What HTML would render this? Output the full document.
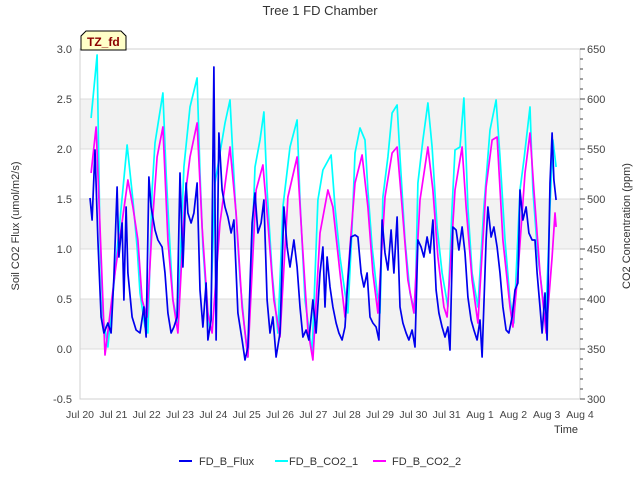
<!DOCTYPE html>
<html><head><meta charset="utf-8">
<style>
body{margin:0;background:#fff;}
svg{display:block;font-family:"Liberation Sans","DejaVu Sans",sans-serif;}
</style></head>
<body>
<svg id="chart" width="640" height="480">
</svg>
<script>
// ---- data ----
const xTickLabels = ["Jul 20","Jul 21","Jul 22","Jul 23","Jul 24","Jul 25","Jul 26","Jul 27","Jul 28","Jul 29","Jul 30","Jul 31","Aug 1","Aug 2","Aug 3","Aug 4"];
const leftTicks = [-0.5,0.0,0.5,1.0,1.5,2.0,2.5,3.0];
const rightTicks = [300,350,400,450,500,550,600,650];
const fluxT = [.28,.34,.42,.50,.59,.67,.78,.87,.95,1.04,1.09,1.18,1.23,1.29,1.34,1.46,1.57,1.68,1.79,1.85,1.93,1.99,2.10,2.18,2.30,2.38,2.46,2.55,2.63,2.72,2.80,2.88,2.97,3.02,3.11,3.19,3.28,3.36,3.44,3.53,3.58,3.67,3.75,3.81,3.89,3.98,4.06,4.14,4.23,4.31,4.42,4.54,4.62,4.70,4.82,4.90,4.98,5.07,5.15,5.24,5.32,5.40,5.49,5.60,5.71,5.80,5.88,5.99,6.08,6.16,6.24,6.33,6.41,6.52,6.61,6.72,6.80,6.86,6.92,7.00,7.08,7.17,7.25,7.34,7.42,7.50,7.59,7.70,7.78,7.87,7.95,8.04,8.12,8.20,8.29,8.37,8.46,8.54,8.62,8.71,8.79,8.88,8.96,9.04,9.13,9.21,9.30,9.38,9.46,9.55,9.63,9.72,9.80,9.88,9.97,10.05,10.14,10.22,10.30,10.36,10.44,10.53,10.61,10.70,10.78,10.86,10.95,11.03,11.12,11.20,11.26,11.37,11.42,11.51,11.59,11.68,11.76,11.84,11.93,12.01,12.10,12.18,12.26,12.32,12.40,12.49,12.57,12.66,12.74,12.80,12.88,12.94,13.02,13.08,13.16,13.22,13.27,13.33];
const fluxV = [1.51,1.29,1.99,1.09,0.32,0.16,0.26,0.16,0.72,1.62,0.92,1.26,0.49,1.42,0.76,0.32,0.19,0.16,0.42,0.12,1.72,1.42,1.19,1.09,1.02,0.76,0.36,0.16,0.22,0.32,1.76,0.82,1.66,1.36,1.26,1.36,1.66,0.59,0.22,0.66,0.09,0.29,2.82,0.09,2.16,1.59,1.42,1.32,1.16,1.29,0.36,0.09,-0.11,0.02,1.26,1.56,1.16,1.26,1.49,0.49,0.16,0.32,-0.08,0.16,1.42,1.02,0.82,1.09,0.82,0.42,0.12,0.19,0.09,0.49,0.16,0.76,1.02,0.42,0.92,0.62,0.42,0.26,0.16,0.09,0.22,0.69,1.12,1.14,1.12,0.76,0.62,0.76,0.32,0.26,0.22,0.09,1.29,0.96,0.79,1.19,0.76,1.32,0.42,0.26,0.16,0.09,0.19,0.02,1.09,1.02,0.92,1.12,0.96,1.29,0.59,0.36,0.22,0.12,0.22,-0.01,1.22,1.19,0.99,1.22,0.96,0.52,0.29,0.19,0.09,0.29,-0.08,1.09,1.42,1.12,1.22,1.02,0.76,0.42,0.19,0.16,0.32,0.59,0.66,1.59,1.29,1.42,1.16,1.09,1.09,0.76,0.42,0.16,0.56,0.09,1.66,2.16,1.69,1.49];
const co2aT = [0.31,0.48,0.56,0.64,0.78,1.12,1.32,1.48,1.60,1.68,1.82,1.90,2.02,2.10,2.32,2.41,2.52,2.60,2.74,2.91,3.08,3.28,3.36,3.44,3.56,3.64,3.78,4.06,4.20,4.34,4.48,4.62,4.70,4.90,5.04,5.15,5.24,5.38,5.54,5.68,5.88,6.08,6.16,6.30,6.50,6.66,6.80,7.03,7.14,7.28,7.42,7.50,7.62,7.70,7.84,7.98,8.06,8.18,8.32,8.40,8.48,8.62,8.74,8.88,8.96,9.10,9.24,9.38,9.46,9.60,9.74,9.86,10.00,10.14,10.30,10.42,10.50,10.64,10.75,10.86,10.98,11.14,11.31,11.48,11.65,11.76,11.90,12.04,12.15,12.32,12.43,12.60,12.68,12.82,12.96,13.05,13.16,13.24,13.33];
const co2aV = [581,644,459,382,352,479,554,499,452,406,372,366,509,556,606,526,452,399,376,532,592,621,526,452,392,369,516,576,599,502,419,366,342,532,559,587,509,426,366,492,552,579,499,399,346,499,529,544,492,442,406,386,472,546,571,559,509,452,406,386,502,542,586,594,542,459,406,386,516,559,596,552,472,426,392,492,549,552,601,492,426,392,492,569,599,542,459,399,376,509,539,592,509,442,402,386,492,559,532];
const co2bT = [0.31,0.45,0.70,0.98,1.34,1.48,1.62,1.74,1.88,2.02,2.16,2.32,2.46,2.60,2.74,2.94,3.08,3.28,3.42,3.58,3.70,3.92,4.20,4.37,4.54,4.70,4.93,5.12,5.26,5.43,5.60,5.82,6.08,6.22,6.38,6.52,6.72,6.94,7.08,7.28,7.42,7.56,7.70,7.90,8.06,8.20,8.34,8.54,8.74,8.88,9.02,9.18,9.35,9.52,9.74,9.88,10.02,10.19,10.28,10.50,10.70,10.81,10.98,11.14,11.37,11.54,11.68,11.84,12.04,12.12,12.26,12.46,12.60,12.71,12.88,13.05,13.22,13.30,13.33];
const co2bV = [526,572,344,426,519,492,459,399,382,472,542,572,459,399,366,502,542,576,472,386,366,476,552,486,392,342,509,534,476,399,362,502,542,459,369,339,466,509,492,426,382,452,516,544,492,426,386,502,546,552,492,419,386,499,552,509,442,392,382,509,552,492,419,376,512,559,562,459,392,372,426,526,566,509,426,366,442,486,472];

// ---- layout ----
const L=80,R=580,T=49,B=399;
const NDAYS=15;
const xS=t=>L+t*(R-L)/NDAYS;
// data times above were read on a 14-unit pixel grid; convert to days
const xData=t=>xS(t*NDAYS/14);
const yL=v=>B-(v+0.5)*(B-T)/3.5;
const yR=v=>B-(v-300)*(B-T)/350;
const svg=document.getElementById('chart');
const NS='http://www.w3.org/2000/svg';
function mk(tag,attrs,parent){const e=document.createElementNS(NS,tag);for(const k in attrs)e.setAttribute(k,attrs[k]);(parent||svg).appendChild(e);return e;}

for(const lo of [0,1.0,2.0]){
  const r=mk('rect',{x:L,y:yL(lo+0.5),width:R-L,height:yL(lo)-yL(lo+0.5),fill:'#f2f2f2'});
  
  
}
for(const v of leftTicks){
  const g=mk('line',{x1:L,x2:R,y1:yL(v),y2:yL(v),stroke:'#dcdcdc','stroke-width':1});
  
  
}
const fr=mk('rect',{x:L,y:T,width:R-L,height:B-T,fill:'none',stroke:'#d0d0d0','stroke-width':1});



leftTicks.forEach(v=>{
  const t=mk('text',{x:72,y:yL(v)+4,'text-anchor':'end','font-size':11,fill:'#444'});
  t.textContent=v.toFixed(1);
  
  
});
for(let v=300;v<=650;v+=10){
  const major=v%50===0;
  const tk=mk('line',{x1:R,x2:R+(major?5:3),y1:yR(v),y2:yR(v),stroke:'#444','stroke-width':1});
  
  
}
rightTicks.forEach(v=>{
  const t=mk('text',{x:587,y:yR(v)+4,'font-size':11,fill:'#444'});
  t.textContent=v;
  
  
});
xTickLabels.forEach((s,i)=>{
  const t=mk('text',{x:xS(i),y:418,'text-anchor':'middle','font-size':10.5,fill:'#444'});
  t.textContent=s;
  
  
});

function series(ts,vs,ys,color,name){
  const d=ts.map((t,i)=>(i?'L':'M')+xData(t).toFixed(1)+','+ys(vs[i]).toFixed(1)).join('');
  const p=mk('path',{d:d,fill:'none',stroke:color,'stroke-width':1.7,'stroke-linejoin':'round'});
  
  
}
series(co2aT,co2aV,yR,'#00ffff','series-fd-b-co2-1');
series(co2bT,co2bV,yR,'#ff00ff','series-fd-b-co2-2');
series(fluxT,fluxV,yL,'#0000ee','series-fd-b-flux');
</script>
<svg width="640" height="480" style="position:absolute;left:0;top:0;font-family:'Liberation Sans','DejaVu Sans',sans-serif;">
  <text x="320" y="15" text-anchor="middle" font-size="13" fill="#333">Tree 1 FD Chamber</text>
  <g>
    <path d="M81,50 L81,36 L86,31 L121,31 L126,36 L126,50 Z" fill="#ffffc8" stroke="#000" stroke-width="1"/>
    <text x="87" y="46" font-size="12" font-weight="bold" fill="#8b0000">TZ_fd</text>
  </g>
  <text x="19" y="226" text-anchor="middle" font-size="11" fill="#333" transform="rotate(-90 19 226)">Soil CO2 Flux (umol/m2/s)</text>
  <text x="630" y="226" text-anchor="middle" font-size="11" fill="#333" transform="rotate(-90 630 226)">CO2 Concentration (ppm)</text>
  <text x="578" y="433" text-anchor="end" font-size="11" fill="#333">Time</text>
  <g>
    <g>
      <line x1="179" x2="192" y1="461" y2="461" stroke="#0000ee" stroke-width="2"/>
      <text x="199" y="465" font-size="11" fill="#333">FD_B_Flux</text>
    </g>
    <g>
      <line x1="275" x2="288" y1="461" y2="461" stroke="#00ffff" stroke-width="2"/>
      <text x="289" y="465" font-size="11" fill="#333">FD_B_CO2_1</text>
    </g>
    <g>
      <line x1="373" x2="386" y1="461" y2="461" stroke="#ff00ff" stroke-width="2"/>
      <text x="392" y="465" font-size="11" fill="#333">FD_B_CO2_2</text>
    </g>
  </g>
</svg>
</body></html>
